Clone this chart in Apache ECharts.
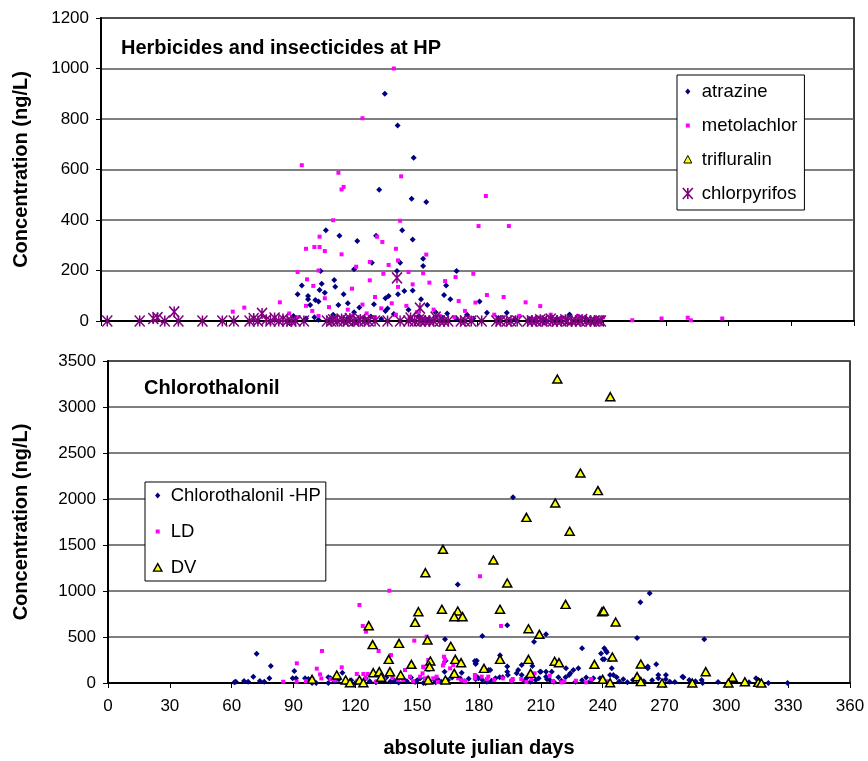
<!DOCTYPE html>
<html>
<head>
<meta charset="utf-8">
<script src="https://cdn.jsdelivr.net/npm/echarts@6/dist/echarts.min.js"></script>
<style>
  html, body { margin: 0; padding: 0; background: #fff; }
  #chart { width: 868px; height: 761px; }
</style>
</head>
<body>
<div id="chart"></div>
<script>
// ---- Upper panel: herbicides and insecticides at HP (day, ng/L) ----
const atrazine = [
  [135.7,900],[141.8,774],[149.5,647],[133,520],[148.5,484],[155.5,471],[107.5,359],[144,359],
  [114,338],[131.5,338],[149,323],[122.5,317],[129.5,231],[143,231],[154,247],[154,218],
  [121,205],[141.5,198],[170,198],[105,198],[111.5,162],[105.5,148],[96,141],[112,136],
  [165,141],[149,121],[145,119],[104.5,123],[107,112],[94,106],[116,106],[142,106],[164,103],
  [99,99],[99,86],[102.5,83],[104,77],[118,70],[113.5,63],[100,63],[181,77],[136,90],
  [137.5,99],[130.5,66],[123.5,53],[137,50],[153,86],[167,86],[156,63],[165.5,30],[184.5,33],
  [194,33],[224,26],
  [92,20],[98,10],[102,15],[104,5],[110,8],[111,25],[118,12],[121,35],[126,10],[129,18],
  [134,8],[136,40],[140,28],[147,45],[148,12],[152,20],[156,5],[160,35],[163,14],[170,8],
  [175,25],[178,10],[190,12],[198,6],[205,8],[212,4],[218,10],[232,8]
];
const metolachlor = [
  [140,1000],[125,803],[96,617],[113.5,587],[143.5,573],[116,531],[115,521],[184,495],
  [111,399],[143,397],[180.5,376],[195,376],[132,334],[104.5,334],[134.5,313],[102,293],
  [104.5,293],[98,286],[107,277],[141,286],[155.5,263],[115,264],[128.5,234],[142,240],
  [137.5,222],[122,215],[135,187],[154,189],[147,194],[178,187],[104,200],[94,194],
  [164.5,158],[169.5,174],[98.5,165],[128.5,161],[157,152],[142,135],[149,145],[120,128],
  [131,95],[101.5,139],[184.5,103],[192.5,95],[107,90],[203,74],[210,59],[85.5,74],
  [68.5,53],[63,37],[171,79],[179,73],[254,3],[268,10],[280.5,13],[297,10],[282,3],
  [90,30],[94,15],[98,60],[101,40],[104,20],[109,55],[112,10],[118,45],[120,20],[125,65],
  [127,30],[131,15],[134,50],[139,70],[141,25],[146,60],[151,35],[154,10],[159,45],[162,20],
  [169,15],[174,40],[177,10],[188,25],[192,15],[200,20],[208,10],[215,25],[220,12],[228,20],
  [236,8],[240,15]
];
const trifluralin = [[224,0],[236,0]];
const chlorpyrifos = [
  [3,0],[18.5,0],[25,10],[27,13],[30.5,0],[35,36],[37,0],[48.5,0],[58,0],[63.5,0],
  [71,0],[73,10],[75,0],[77,30],[79,5],[81,0],[83,12],[85,0],[87,8],[89,0],[91,0],[93,0],
  [97,0],[108,0],[110,0],[111,5],[113,0],[115,8],[116,0],[118,0],[119,10],[121,0],[123,0],
  [124,6],[126,0],[128,0],[131,0],[137,0],[143,0],[141.5,171],[147,0],[148,12],[150,0],
  [152,5],[153,0],[155,0],[152.5,51],[157,0],[159,0],[160,15],[162,0],[164,0],[166,0],
  [172,0],[174,0],[177,0],[182,0],[189,0],[191,0],[194,0],[196,0],[199,0],
  [204,0],[206,0],[208,0],[210,5],[211,0],[213,0],[215,8],[216,0],[218,0],[220,0],[222,5],
  [223,0],[225,0],[227,0],[229,0],[230,6],[232,0],[234,0],[236,0],[238,0],[239,0]
];

// ---- Lower panel: chlorothalonil at three sites (day, ng/L) ----
const chlHP = [
  [196.5,2018],[169.7,1072],[262.8,975],[258.3,877],[193.7,627],[181.6,511],[212.5,529],
  [206.7,449],[163.5,475],[256.7,489],[289.3,475],[230,377],[240.8,377],[241.6,351],[242,333],
  [239.2,322],[240.8,257],[243.6,257],[240,257],[190.2,301],[193.7,178],[193.7,123],[178,239],
  [178.4,206],[184.7,141],[261.9,178],[261.9,160],[266,203],[200.7,196],[199,141],[198.3,105],
  [205.9,185],[212.5,123],[215.3,123],[209.6,123],[212.5,69],[214.4,33],[216.3,14],[218.5,62],
  [222.2,159],[223.7,87],[225.8,141],[228.2,159],[235.5,51],[238.7,51],[244.4,159],[243.6,87],
  [245.2,87],[246.8,62],[254.7,33],[256.3,40],[267,87],[267,51],[270.7,87],[270.6,40],
  [272.6,14],[278.7,69],[279.2,62],[282,33],[283,14],[288,33],[288.5,0],[314.4,51],[320.4,0],
  [329.7,0],[178.4,40],[179.7,51],[181.6,33],[183.8,14],[185.5,141],[188,51],[190,62],
  [191.5,62],[194,87],[200.7,87],[203,51],[205,14],[207.5,33],[209,51],[210,123],[222,62],
  [224.3,105],[226.8,14],[171.6,112],[170.8,51],[165,33],[163.3,123],[161.7,14],[158.5,33],
  [153,0],[154,0],[151.5,51],[163.8,243],[72.1,319],[79,185],[70.5,69],[78.3,51],[61.3,8],
  [62,14],[68,14],[75.8,14],[90.4,130],[91.2,51],[89.6,51],[95.6,51],[97.2,43],[99,0],
  [101,0],[106.9,62],[106.9,0],[108,51],[113.7,112],[178.9,243],[178.4,214],[178.9,69],
  [66,22],[73.7,22],
  [110,20],[112,40],[115,10],[118,30],[120,0],[122,15],[125,50],[127,20],[130,8],[133,35],
  [135,60],[137,15],[139,25],[141,5],[143,45],[145,20],[147,60],[149,10],[150,30],[156,18],
  [159,8],[160,40],[167,60],[173,20],[175,45],[186,25],[196,30],[202,20],[213,40],[220,25],
  [230,30],[232,60],[234,20],[248,15],[250,40],[252,8],[260,20],[264,30],[275,10],[285,18],
  [296,10],[311,8],[316,25]
];
const chlLD = [
  [136.5,1003],[122,848],[123.6,620],[125.2,558],[103.8,348],[91.6,214],[131.3,348],[137.3,304],
  [148.6,460],[101.3,156],[102.9,94],[113.4,170],[120.7,98],[123.9,98],[126,98],[85,14],
  [91.5,14],[103.5,50],[108,43],[144.1,141],[146.5,69],[151.4,69],[153,178],[155.4,250],
  [140.9,33],[143.3,33],[121,25],[125,51],[180.5,1160],[190.7,620],[154.6,504],[163,286],
  [163.5,257],[163,218],[162.5,190],[167.5,196],[166,159],[153,170],[155.4,141],[152.6,105],
  [153.8,51],[155.4,51],[157.8,51],[159.4,69],[167.5,87],[169.9,51],[171.5,29],[173.2,22],
  [178,87],[178,51],[181.3,69],[184.5,69],[183.8,43],[191.5,51],[187.4,33],[195.6,25],
  [196.4,43],[200.5,43],[203,11],[207,105],[205.4,43],[214.3,80],[215.9,18],[220,7],
  [221.4,18],[227,25],[232,7],[234.4,43],[242.5,18],
  [96,20],[110,30],[116,10],[130,15],[134,40],[138,60],[148,20],[160,10]
];
const chlDV = [
  [218,3304],[243.7,3112],[229.2,2283],[237.7,2091],[217,1956],[203,1800],[224,1649],
  [162.5,1453],[187,1337],[154,1199],[193.7,1087],[222,855],[150.6,775],[162,801],[169.7,783],
  [168,721],[172,721],[190.2,801],[239.7,775],[240.5,783],[246.3,663],[149,659],[126.5,623],
  [128.4,417],[141.2,431],[155,467],[166.3,399],[204,590],[209.3,529],[136.2,257],[147.2,203],
  [156.4,239],[156,178],[168.5,257],[171.3,221],[168,105],[163.7,33],[182.4,159],[190.2,257],
  [204,257],[205,105],[216.7,236],[218.8,221],[236,203],[244.7,283],[240,40],[243.6,3],
  [256.7,69],[258.5,206],[258.5,15],[268.8,0],[283.5,0],[290,123],[303,62],[301,0],[309,14],
  [315.5,7],[317,0],[128.7,112],[131.6,123],[136.8,123],[132.5,62],[142,87],[111,87],[99,40],
  [115.3,33],[117.4,3],[122,33],[123.9,3],[155.3,33]
];

// Axis tick settings
const dayTicks = { min: 0, max: 360, step: 30 };
const topConc = { min: 0, max: 1200, step: 200 };
const bottomConc = { min: 0, max: 3500, step: 500 };

const FONT = '"Liberation Sans", Arial, sans-serif';
const NAVY = '#000080', MAGENTA = '#FF00FF', PURPLE = '#800080', YELLOW = '#FFFF00';
const ASTERISK = 'path://M0,0L10,11M10,0L0,11M5,0L5,11';

// Legend icons: the leading moves fix the icon box so each glyph keeps its own size
const ICON_TOP = {
  diamond: 'path://M-9,-6M9,6M0,-3L2.6,0L0,3L-2.6,0Z',
  square: 'path://M-9,-6M9,6M-2,-2L2,-2L2,2L-2,2Z',
  triangle: 'path://M-9,-6M9,6M0,-4L4,3.5L-4,3.5Z',
  asterisk: 'path://M-9,-6M9,6M-5,-5.5L5,5.5M5,-5.5L-5,5.5M0,-5.5L0,5.5'
};
const ICON_BOTTOM = {
  diamond: 'path://M-8,-6M8,6M0,-3L2.6,0L0,3L-2.6,0Z',
  square: 'path://M-8,-6M8,6M-2,-2L2,-2L2,2L-2,2Z',
  triangle: 'path://M-8,-6M8,6M0,-3.8L4.2,3.6L-4.2,3.6Z'
};

function valueAxis(t, grid, extra) {
  return Object.assign({
    type: 'value', gridIndex: grid, min: t.min, max: t.max, interval: t.step,
    axisLine: { show: true, lineStyle: { color: '#000', width: 2 } },
    axisTick: { show: true, inside: false, length: 5, lineStyle: { color: '#000', width: 1 } },
    axisLabel: { color: '#000', fontFamily: FONT, fontSize: 17, margin: 12, formatter: v => String(v) },
    splitLine: { show: false }
  }, extra);
}

const chart = echarts.init(document.getElementById('chart'), null, { renderer: 'canvas' });
chart.setOption({
  animation: false,
  backgroundColor: '#fff',
  textStyle: { fontFamily: FONT },
  title: [
    { text: 'Herbicides and insecticides at HP', left: 121, top: 38, padding: 0,
      textStyle: { fontFamily: FONT, fontWeight: 'bold', fontSize: 20, color: '#000' } },
    { text: 'Chlorothalonil', left: 144, top: 378, padding: 0,
      textStyle: { fontFamily: FONT, fontWeight: 'bold', fontSize: 20, color: '#000' } }
  ],
  grid: [
    { left: 101, right: 14, top: 18, height: 303, show: true, borderColor: '#000', borderWidth: 1.5, backgroundColor: '#fff' },
    { left: 108, right: 18, top: 361, height: 322, show: true, borderColor: '#000', borderWidth: 1.5, backgroundColor: '#fff' }
  ],
  legend: [
    { data: [
        { name: 'atrazine', icon: ICON_TOP.diamond },
        { name: 'metolachlor', icon: ICON_TOP.square },
        { name: 'trifluralin', icon: ICON_TOP.triangle, itemStyle: { borderColor: '#000', borderWidth: 1 } },
        { name: 'chlorpyrifos', icon: ICON_TOP.asterisk, itemStyle: { color: 'rgba(0,0,0,0)', borderColor: PURPLE, borderWidth: 1.6 } }
      ],
      orient: 'vertical', left: 677, top: 75, itemGap: 15, itemWidth: 18, itemHeight: 12,
      padding: [7, 7, 7, 1], borderColor: '#000', borderWidth: 1, backgroundColor: '#fff',
      textStyle: { fontFamily: FONT, fontSize: 18.5, color: '#000' } },
    { data: [
        { name: 'Chlorothalonil -HP', icon: ICON_BOTTOM.diamond },
        { name: 'LD', icon: ICON_BOTTOM.square },
        { name: 'DV', icon: ICON_BOTTOM.triangle, itemStyle: { borderColor: '#000', borderWidth: 1.4 } }
      ],
      orient: 'vertical', left: 145, top: 482, itemGap: 17, itemWidth: 16, itemHeight: 12,
      padding: [4, 5, 4, 4], borderColor: '#000', borderWidth: 1, backgroundColor: '#fff',
      textStyle: { fontFamily: FONT, fontSize: 18.5, color: '#000' } }
  ],
  xAxis: [
    valueAxis(dayTicks, 0, { axisLabel: { show: false } }),
    valueAxis(dayTicks, 1, {
      name: 'absolute julian days', nameLocation: 'middle', nameGap: 55,
      nameTextStyle: { fontFamily: FONT, fontWeight: 'bold', fontSize: 20, color: '#000' },
      axisLabel: { color: '#000', fontFamily: FONT, fontSize: 17, margin: 15, formatter: v => String(v) }
    })
  ],
  yAxis: [
    valueAxis(topConc, 0, {
      name: 'Concentration (ng/L)', nameLocation: 'middle', nameGap: 70,
      nameTextStyle: { fontFamily: FONT, fontWeight: 'bold', fontSize: 20, color: '#000' },
      splitLine: { show: true, lineStyle: { color: '#555', width: 1.5 } }
    }),
    valueAxis(bottomConc, 1, {
      name: 'Concentration (ng/L)', nameLocation: 'middle', nameGap: 77,
      nameTextStyle: { fontFamily: FONT, fontWeight: 'bold', fontSize: 20, color: '#000' },
      splitLine: { show: true, lineStyle: { color: '#555', width: 1.5 } }
    })
  ],
  series: [
    { name: 'atrazine', type: 'scatter', xAxisIndex: 0, yAxisIndex: 0, clip: false,
      symbol: 'diamond', symbolSize: 6, itemStyle: { color: NAVY, opacity: 1 }, data: atrazine },
    { name: 'metolachlor', type: 'scatter', xAxisIndex: 0, yAxisIndex: 0, clip: false,
      symbol: 'rect', symbolSize: 4, itemStyle: { color: MAGENTA, opacity: 1 }, data: metolachlor },
    { name: 'trifluralin', type: 'scatter', xAxisIndex: 0, yAxisIndex: 0, clip: false,
      symbol: 'triangle', symbolSize: [6, 5], itemStyle: { color: YELLOW, borderColor: '#000', borderWidth: 1, opacity: 1 }, data: trifluralin },
    { name: 'chlorpyrifos', type: 'scatter', xAxisIndex: 0, yAxisIndex: 0, clip: false,
      symbol: ASTERISK, symbolSize: [10, 11],
      itemStyle: { color: 'rgba(0,0,0,0)', borderColor: PURPLE, borderWidth: 1.6, opacity: 1 }, data: chlorpyrifos },
    { name: 'Chlorothalonil -HP', type: 'scatter', xAxisIndex: 1, yAxisIndex: 1, clip: false,
      symbol: 'diamond', symbolSize: 6, itemStyle: { color: NAVY, opacity: 1 }, data: chlHP },
    { name: 'LD', type: 'scatter', xAxisIndex: 1, yAxisIndex: 1, clip: false,
      symbol: 'rect', symbolSize: 4, itemStyle: { color: MAGENTA, opacity: 1 }, data: chlLD },
    { name: 'DV', type: 'scatter', xAxisIndex: 1, yAxisIndex: 1, clip: false,
      symbol: 'triangle', symbolSize: [9, 8], itemStyle: { color: YELLOW, borderColor: '#000', borderWidth: 1.5, opacity: 1 }, data: chlDV }
  ]
});
</script>
</body>
</html>
